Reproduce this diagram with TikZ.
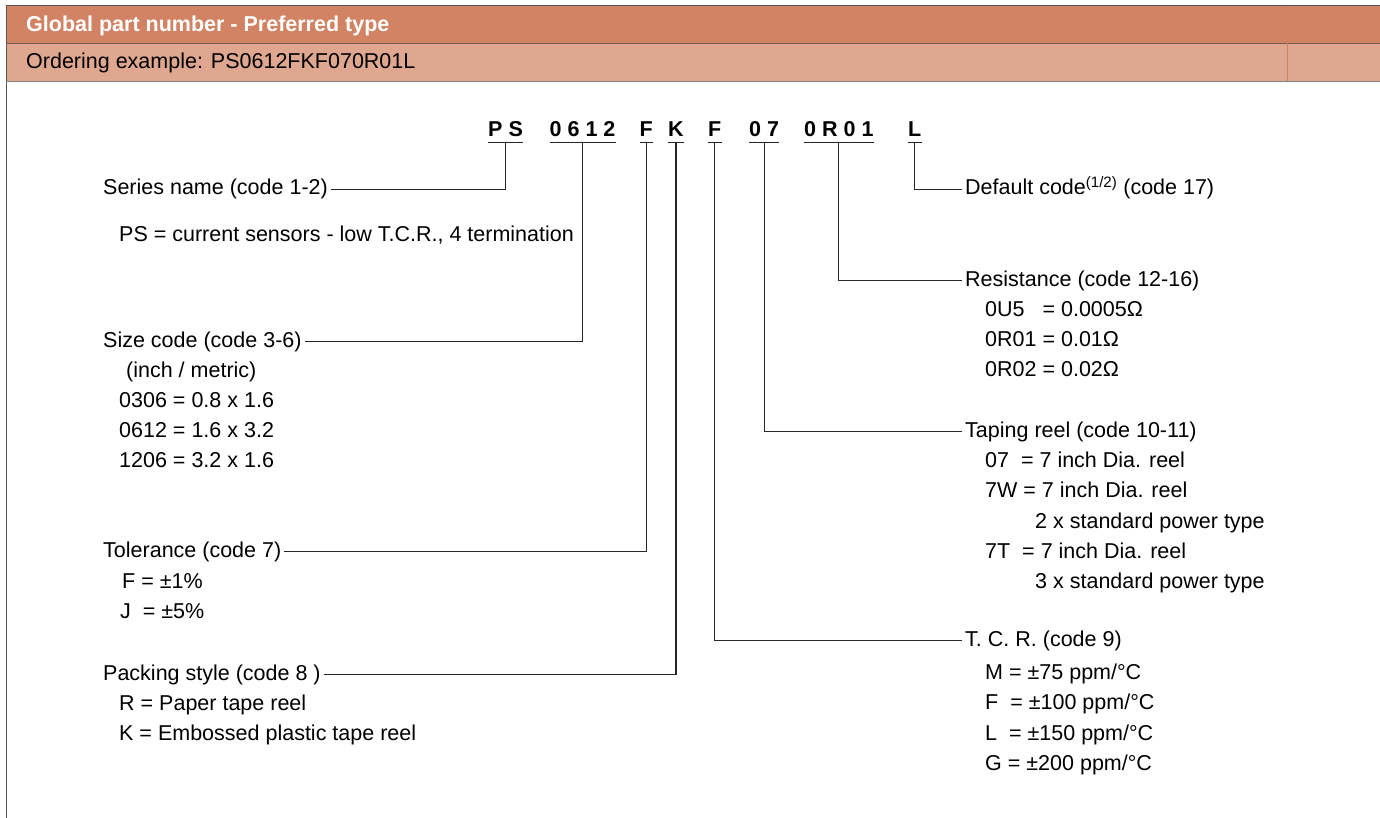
\documentclass[tikz,border=0pt]{standalone}
\usepackage{fontspec}
\setmainfont{Liberation Sans}
\usepackage{tikz}
\definecolor{headDark}{RGB}{209,131,99}
\definecolor{headLight}{RGB}{223,167,143}
\definecolor{frameGray}{RGB}{85,85,85}

\begin{document}
\begin{tikzpicture}[x=1pt, y=-1pt,
    txt/.style={anchor=west, inner xsep=3pt, inner ysep=0pt, yshift=-1.5pt, text height=15.5pt, text depth=4.5pt, font=\fontsize{21.5}{26}\selectfont},
    code/.style={anchor=base west, inner xsep=0pt, inner ysep=5pt, text depth=0pt, font=\fontsize{21.5}{26}\selectfont\bfseries},
    wire/.style={line width=1.1pt, black!85}]
  \useasboundingbox (0,0) rectangle (1380,818);
  % header bands
  \fill[headDark] (6,6) rectangle (1380,43);
  \fill[headLight] (6,44) rectangle (1380,81);
  \draw[frameGray, line width=1pt] (1380,5.5) -- (6,5.5) -- (6,818);   % top and left frame
  \draw[frameGray!80!headDark, line width=1pt] (6,43.5) -- (1380,43.5);
  \draw[gray, line width=1pt] (6,81.5) -- (1380,81.5);
  \draw[headDark!93!gray, line width=0.5pt] (1287,6) -- (1287,81);    % faint cell edge
  \node[txt, text=white, font=\fontsize{21.5}{26}\selectfont\bfseries] (title) at (23,25) {Global part number - Preferred type};
  \node[txt] (order) at (23,62) {Ordering example: PS0612FKF070R01L};

  % part number codes
  \node[code] (ps) at (488,137) {P S};
  \node[code] (szcode) at (549.5,137) {0 6 1 2};
  \node[code] (tolcode) at (639.5,137) {F};
  \node[code] (packcode) at (668,137) {K};
  \node[code] (tcrcode) at (708,137) {F};
  \node[code] (reelcode) at (749,137) {0 7};
  \node[code] (rescode) at (804,137) {0 R 0 1};
  \node[code] (defcode) at (908,137) {L};
  \foreach \c in {ps,szcode,tolcode,packcode,tcrcode,reelcode,rescode,defcode}
    \draw[wire] (\c.south west) -- (\c.south east);   % underlines

  % left column
  \node[txt] (series) at (100,188) {Series name (code 1-2)};
  \node[txt] (seriesA) at (116,234) {PS = current sensors - low T.C.R., 4 termination};
  \node[txt] (size) at (100,340) {Size code (code 3-6)};
  \node[txt] (sizeA) at (123,370) {(inch / metric)};
  \node[txt] (sizeB) at (116,400) {0306 = 0.8 x 1.6};
  \node[txt] (sizeC) at (116,430) {0612 = 1.6 x 3.2};
  \node[txt] (sizeD) at (116,460) {1206 = 3.2 x 1.6};
  \node[txt] (tol) at (100,550) {Tolerance (code 7)};
  \node[txt] (tolA) at (119,581) {F = ±1\%};
  \node[txt] (tolB) at (117,611) {J~ = ±5\%};
  \node[txt] (pack) at (100,673) {Packing style (code 8 )};
  \node[txt] (packA) at (116,703) {R = Paper tape reel};
  \node[txt] (packB) at (116,733) {K = Embossed plastic tape reel};

  % right column
  \node[txt] (default) at (962,188) {Default code\textsuperscript{(1/2)} (code 17)};
  \node[txt] (res) at (962,279) {Resistance (code 12-16)};
  \node[txt] (resA) at (982,309) {0U5~~ = 0.0005Ω};
  \node[txt] (resB) at (982,339) {0R01 = 0.01Ω};
  \node[txt] (resC) at (982,369) {0R02 = 0.02Ω};
  \node[txt] (tape) at (962,430) {Taping reel (code 10-11)};
  \node[txt] (tapeA) at (982,460) {07~ = 7 inch Dia. reel};
  \node[txt] (tapeB) at (982,490) {7W = 7 inch Dia. reel};
  \node[txt] (tapeC) at (1032,521) {2 x standard power type};
  \node[txt] (tapeD) at (982,551) {7T~ = 7 inch Dia. reel};
  \node[txt] (tapeE) at (1032,581) {3 x standard power type};
  \node[txt] (tcr) at (962,639) {T. C. R. (code 9)};
  \node[txt] (tcrA) at (982,672) {M = ±75 ppm/°C};
  \node[txt] (tcrB) at (982,702) {F~ = ±100 ppm/°C};
  \node[txt] (tcrC) at (982,733) {L~ = ±150 ppm/°C};
  \node[txt] (tcrD) at (982,763) {G = ±200 ppm/°C};

  % connectors
  \draw[wire] (ps.south) |- (series.east);
  \draw[wire] (szcode.south) |- (size.east);
  \draw[wire] (tolcode.south) |- (tol.east);
  \draw[wire] (packcode.south) |- (pack.east);
  \draw[wire] (tcrcode.south) |- (tcr.west);
  \draw[wire] (reelcode.south) |- (tape.west);
  \draw[wire] (rescode.south) |- (res.west);
  \draw[wire] (defcode.south) |- (default.west);
\end{tikzpicture}
\end{document}
